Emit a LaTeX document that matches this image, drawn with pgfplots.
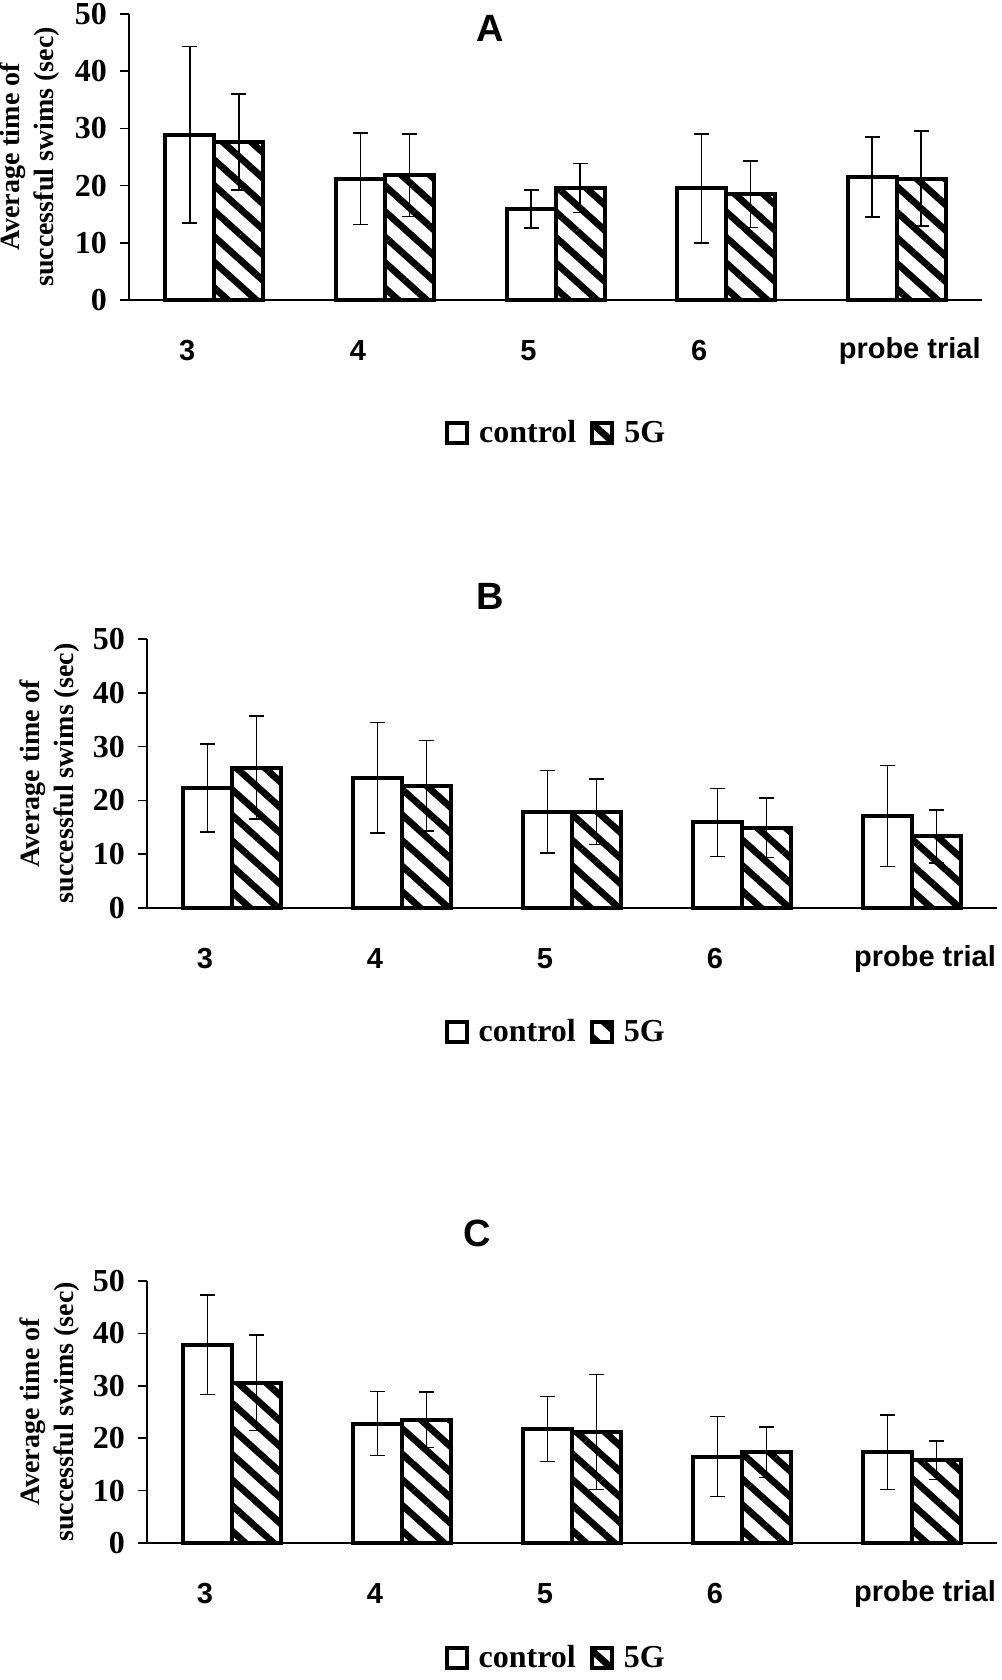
\documentclass[border=0pt]{standalone}
\usepackage{pgfplots}
\pgfplotsset{compat=1.18}
\usepackage{pgfplotstable}
\usepackage{fontspec}
\setmainfont{Liberation Serif}
\newfontfamily\arialf{Liberation Sans}
\usetikzlibrary{patterns.meta}

\pgfplotstableread{
x y e
0 28.9 15.4
1 21.2 8.0
2 15.9 3.3
3 19.5 9.5
4 21.5 7.0
}\Actrl
\pgfplotstableread{
x y e
0 27.6 8.4
1 21.8 7.2
2 19.6 4.3
3 18.5 5.8
4 21.2 8.3
}\Afive
\pgfplotstableread{
x y e
0 22.3 8.2
1 24.2 10.3
2 17.9 7.7
3 15.9 6.3
4 17.1 9.4
}\Bctrl
\pgfplotstableread{
x y e
0 26.1 9.6
1 22.7 8.4
2 17.9 6.1
3 14.9 5.5
4 13.3 4.9
}\Bfive
\pgfplotstableread{
x y e
0 37.8 9.5
1 22.8 6.1
2 21.8 6.2
3 16.5 7.6
4 17.3 7.1
}\Cctrl
\pgfplotstableread{
x y e
0 30.6 9.1
1 23.5 5.3
2 21.2 11.0
3 17.3 4.8
4 15.8 3.7
}\Cfive

\pgfplotsset{
  panel/.style={
    scale only axis,
    xmin=-0.5, xmax=4.5, ymin=0, ymax=50,
    axis lines*=left,
    axis line style={line width=0.75pt, black},
    ybar=0pt, bar width=24.5pt,
    xtick={0,1,2,3,4},
    xticklabels={3,4,5,6,{\hspace*{40pt}probe trial}},
    xtick style={draw=none},
    x tick label style={font=\arialf\bfseries\fontsize{14.5}{14.5}\selectfont, anchor=center, yshift=-21pt, xshift=-13.5pt},
    ytick={0,10,20,30,40,50},
    yticklabels={0,10,20,30,40,50},
    y tick label style={font=\bfseries\fontsize{16}{16}\selectfont, xshift=-3pt},
    tick align=outside,
    major tick length=4.5pt,
    ytick style={line width=0.75pt, black},
    clip=false,
    legend columns=2,
    legend style={draw=none, fill=none, font=\bfseries\fontsize{16}{16}\selectfont, anchor=center,
      /tikz/every odd column/.append style={column sep=3pt},
      /tikz/every even column/.append style={column sep=5pt}},
    ylabel={Average time of\\successful swims (sec)},
    every axis y label/.style={rotate=90, anchor=center, align=center,
      font=\bfseries\fontsize{14}{17}\selectfont},
    every axis title/.style={anchor=center, font=\arialf\bfseries\fontsize{19}{19}\selectfont},
  },
  ctrlbar/.style={draw=black, line width=2pt, fill=white,
    legend image code/.code={\draw[##1, line width=2pt] (0pt,-5pt) rectangle (10pt,5pt);},
    error bars/.cd, y dir=both, y explicit,
    error bar style={line width=0.75pt, black},
    error mark options={rotate=90, line width=0.75pt, mark size=3.75pt, black}},
  fivebar/.style={draw=black, line width=2pt, fill=white,
    postaction={pattern={Lines[angle=-42, distance=9.5pt, line width=3.4pt]}},
    legend image code/.code={\draw[##1, line width=2pt] (0pt,-5pt) rectangle (10pt,5pt);},
    error bars/.cd, y dir=both, y explicit,
    error bar style={line width=0.75pt, black},
    error mark options={rotate=90, line width=0.75pt, mark size=3.75pt, black}},
}

\begin{document}
\begin{tikzpicture}
\useasboundingbox (0,0) rectangle (500.5pt,840pt);

% Panel A
\begin{axis}[panel, at={(64.5pt,690pt)}, anchor=south west,
  width=426.5pt, height=143pt,
  title={A}, title style={at={(axis description cs:0.423,0.95)}},
  ylabel style={at={(axis description cs:-0.117,0.5)}},
  legend style={at={(axis description cs:0.502,-0.465)}}]
\addplot[ctrlbar] table[x=x, y=y, y error=e] {\Actrl};
\addplot[fivebar] table[x=x, y=y, y error=e] {\Afive};
\legend{control,5G}
\end{axis}

% Panel B
\begin{axis}[panel, at={(73.5pt,386pt)}, anchor=south west,
  width=425pt, height=134.5pt,
  title={B}, title style={at={(axis description cs:0.404,1.16)}},
  ylabel style={at={(axis description cs:-0.115,0.5)}},
  legend style={at={(axis description cs:0.482,-0.461)}}]
\addplot[ctrlbar] table[x=x, y=y, y error=e] {\Bctrl};
\addplot[fivebar] table[x=x, y=y, y error=e] {\Bfive};
\legend{control,5G}
\end{axis}

% Panel C
\begin{axis}[panel, at={(73.5pt,68.5pt)}, anchor=south west,
  width=425pt, height=131pt,
  title={C}, title style={at={(axis description cs:0.389,1.18)}},
  ylabel style={at={(axis description cs:-0.115,0.5)}},
  legend style={at={(axis description cs:0.482,-0.44)}}]
\addplot[ctrlbar] table[x=x, y=y, y error=e] {\Cctrl};
\addplot[fivebar] table[x=x, y=y, y error=e] {\Cfive};
\legend{control,5G}
\end{axis}
\end{tikzpicture}
\end{document}
